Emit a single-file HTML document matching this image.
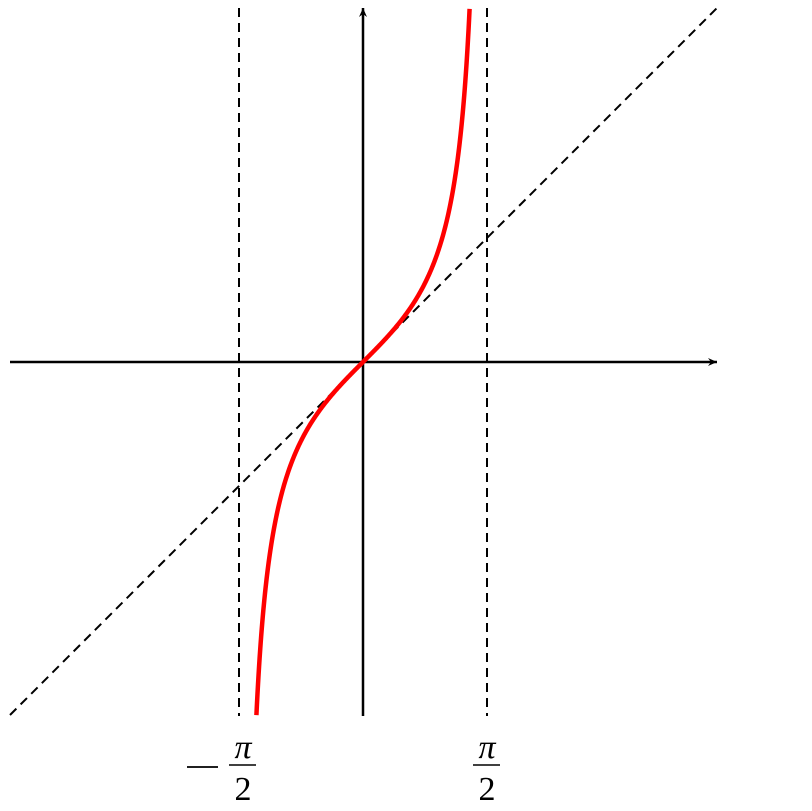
<!DOCTYPE html>
<html><head><style>body{margin:0;background:#fff}svg{display:block}</style></head>
<body>
<svg width="812" height="811" viewBox="0 0 812 811" xmlns="http://www.w3.org/2000/svg">
<defs><marker id="a" markerWidth="10" markerHeight="8" refX="9" refY="4" orient="auto" markerUnits="userSpaceOnUse"><path d="M0,0 L9,4 L0,8 L3,4 Z" fill="#000"/></marker></defs>
<line x1="239" y1="8" x2="239" y2="716" stroke="#000" stroke-width="2" stroke-dasharray="9,6"/>
<line x1="487" y1="8" x2="487" y2="716" stroke="#000" stroke-width="2" stroke-dasharray="9,6"/>
<line x1="10" y1="715" x2="718" y2="7" stroke="#000" stroke-width="2" stroke-dasharray="9,6"/>
<line x1="10" y1="362" x2="717" y2="362" stroke="#000" stroke-width="2.5" marker-end="url(#a)"/>
<line x1="363" y1="716" x2="363" y2="8" stroke="#000" stroke-width="2.5" marker-end="url(#a)"/>
<path id="c" fill="none" stroke="#f00" stroke-width="4.5"/>
<g font-family="Liberation Serif, serif" font-size="34" fill="#000" text-anchor="middle">
<text x="243" y="758" font-style="italic">π</text>
<line x1="229" y1="765" x2="256" y2="765" stroke="#000" stroke-width="1.6"/>
<text x="243" y="800">2</text>
<line x1="187" y1="767" x2="218" y2="767" stroke="#000" stroke-width="1.8"/>
<text x="487" y="758" font-style="italic">π</text>
<line x1="473" y1="765" x2="500" y2="765" stroke="#000" stroke-width="1.6"/>
<text x="487" y="800">2</text>
</g>
</svg>
<script>
var s=78.9,ox=363,oy=362,d="";
for(var i=0;i<=400;i++){var x=-1.351+2.702*i/400;var y=Math.tan(x);d+=(i?"L":"M")+(ox+x*s).toFixed(2)+","+(oy-y*s).toFixed(2);}
document.getElementById("c").setAttribute("d",d);
</script>
</body></html>
